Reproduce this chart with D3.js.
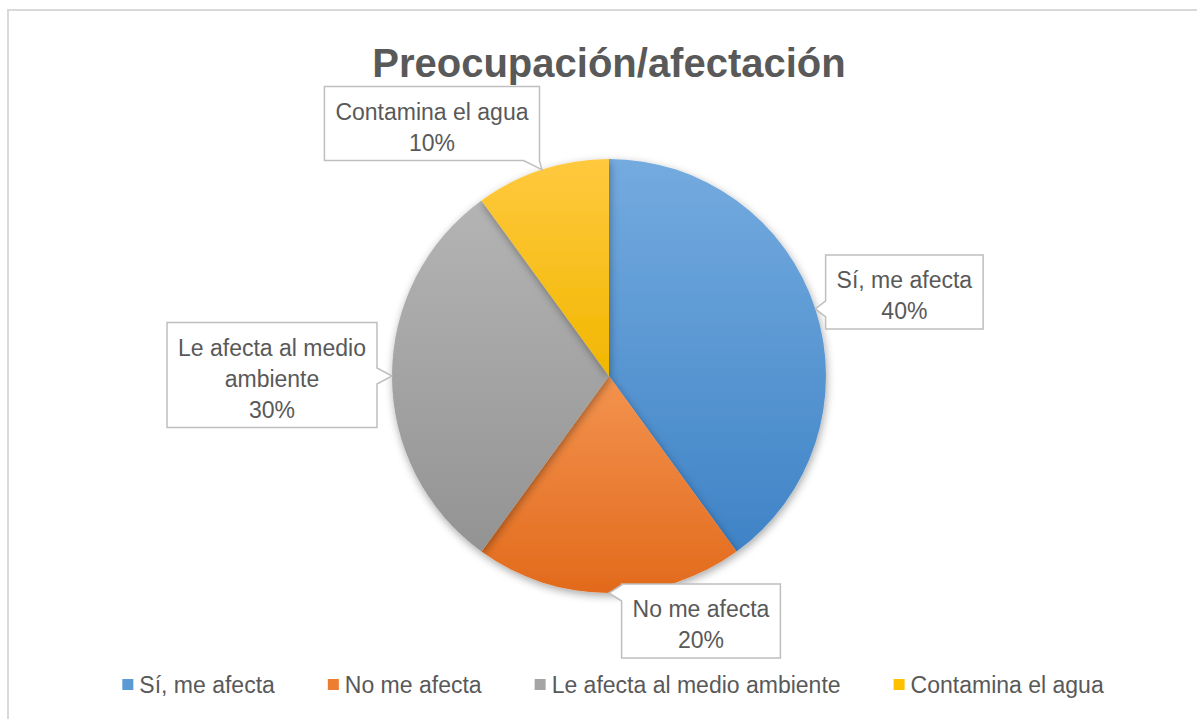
<!DOCTYPE html>
<html>
<head>
<meta charset="utf-8">
<script src="https://cdn.jsdelivr.net/npm/d3@7"></script>
<style>
  body { margin: 0; background: #fff; }
  svg { display: block; font-family: "Liberation Sans", Arial, sans-serif; }
</style>
</head>
<body>
<svg id="svg"></svg>
<script>
// data
var categories = ["Sí, me afecta", "No me afecta", "Le afecta al medio ambiente", "Contamina el agua"];
var values = [40, 20, 30, 10];
var pctLabels = ["40%", "20%", "30%", "10%"];
var title = "Preocupación/afectación";

// styles
var colorsTop = ["#74abdf", "#f3934f", "#b4b4b4", "#ffc93f"];
var colorsBot = ["#3f83c6", "#e26a1c", "#939393", "#f1b700"];
var legendColors = ["#5b9bd5", "#ed7d31", "#a5a5a5", "#ffc000"];
// callout box centre relative to the pointer tip
var labelOffsets = [[89, -17], [92, 28], [-120, -1], [-110, -46]];

var W = 1197, H = 719;
var cx = 609, cy = 376, R = 217;
var textColor = "#595959";

var svg = d3.select("#svg").attr("width", W).attr("height", H);

var defs = svg.append("defs");
values.forEach(function(v, i) {
  var g = defs.append("linearGradient").attr("id", "grad" + i)
    .attr("x1", 0).attr("y1", 0).attr("x2", 0).attr("y2", 1);
  g.append("stop").attr("offset", "0%").attr("stop-color", colorsTop[i]);
  g.append("stop").attr("offset", "100%").attr("stop-color", colorsBot[i]);
});
var f = defs.append("filter").attr("id", "shadow")
  .attr("x", "-20%").attr("y", "-20%").attr("width", "140%").attr("height", "140%");
f.append("feDropShadow").attr("dx", 1).attr("dy", 3).attr("stdDeviation", 4)
  .attr("flood-color", "#000").attr("flood-opacity", 0.35);

// chart border
svg.append("rect").attr("x", 8).attr("y", 10).attr("width", W + 20).attr("height", H + 20)
  .attr("fill", "#fff").attr("stroke", "#d9d9d9").attr("stroke-width", 2);

// title
svg.append("text").attr("x", cx).attr("y", 77).attr("text-anchor", "middle")
  .attr("font-size", 40).attr("font-weight", "bold").attr("fill", textColor)
  .text(title);

// pie
var pie = d3.pie().sort(null).value(function(d) { return d; });
var arcs = pie(values);
var arc = d3.arc().innerRadius(0).outerRadius(R);

var pg = svg.append("g").attr("transform", "translate(" + cx + "," + cy + ")");
pg.selectAll("path.slice").data(arcs).enter().append("path")
  .attr("class", "slice")
  .attr("d", arc)
  .attr("fill", function(d, i) { return "url(#grad" + i + ")"; })
  .attr("filter", "url(#shadow)");

// callouts
var lineH = 31, fs = 23, padX = 11, padY = 6;
var measure = svg.append("text").attr("font-size", fs).attr("visibility", "hidden");
function textW(s) { measure.text(s); return measure.node().getComputedTextLength(); }
function wrap(s, maxW) {
  var words = s.split(" "), lines = [], cur = "";
  words.forEach(function(w) {
    var t = cur ? cur + " " + w : w;
    if (cur && textW(t) > maxW) { lines.push(cur); cur = w; } else cur = t;
  });
  if (cur) lines.push(cur);
  return lines;
}
function clamp(v, a, b) { return Math.max(a, Math.min(b, v)); }

var cg = svg.append("g");
arcs.forEach(function(d, i) {
  var mid = (d.startAngle + d.endAngle) / 2;
  var tx = cx + Math.sin(mid) * R, ty = cy - Math.cos(mid) * R;
  var lines = wrap(categories[i], 212).concat([pctLabels[i]]);
  var bw = d3.max(lines, textW) + 2 * padX;
  var bh = lines.length * lineH + 2 * padY;
  var bx = tx + labelOffsets[i][0], by = ty + labelOffsets[i][1];
  var x0 = bx - bw / 2, x1 = bx + bw / 2, y0 = by - bh / 2, y1 = by + bh / 2;
  var ex = tx < x0 ? x0 - tx : (tx > x1 ? tx - x1 : 0);
  var ey = ty < y0 ? y0 - ty : (ty > y1 ? ty - y1 : 0);
  var hw = 8, pts;
  if (ex >= ey) {
    var c = clamp(ty, y0 + hw, y1 - hw);
    if (tx < x0) pts = [[x0, y0], [x1, y0], [x1, y1], [x0, y1], [x0, c + hw], [tx, ty], [x0, c - hw]];
    else pts = [[x0, y0], [x1, y0], [x1, c - hw], [tx, ty], [x1, c + hw], [x1, y1], [x0, y1]];
  } else {
    var c2 = clamp(tx, x0 + hw, x1 - hw);
    if (ty < y0) pts = [[x0, y0], [c2 - hw, y0], [tx, ty], [c2 + hw, y0], [x1, y0], [x1, y1], [x0, y1]];
    else pts = [[x0, y0], [x1, y0], [x1, y1], [c2 + hw, y1], [tx, ty], [c2 - hw, y1], [x0, y1]];
  }
  cg.append("path").attr("d", d3.line()(pts) + "Z")
    .attr("fill", "#fff").attr("stroke", "#bfbfbf").attr("stroke-width", 1.5);
  cg.append("text").attr("text-anchor", "middle").attr("font-size", fs).attr("fill", textColor)
    .selectAll("tspan").data(lines).enter().append("tspan")
    .attr("x", bx)
    .attr("y", function(l, j) { return y0 + padY + j * lineH + 27; })
    .text(function(l) { return l; });
});

// legend
var sq = 11, gapSq = 6, gapItem = 53, legY = 693;
var widths = categories.map(function(c) { return sq + gapSq + textW(c); });
var total = d3.sum(widths) + gapItem * (categories.length - 1);
var lx = 613 - total / 2;
var lg = svg.append("g");
categories.forEach(function(c, i) {
  lg.append("rect").attr("x", lx).attr("y", legY - 14).attr("width", sq).attr("height", sq)
    .attr("fill", legendColors[i]);
  lg.append("text").attr("x", lx + sq + gapSq).attr("y", legY)
    .attr("font-size", fs).attr("fill", textColor).text(c);
  lx += widths[i] + gapItem;
});
measure.remove();
</script>
</body>
</html>
